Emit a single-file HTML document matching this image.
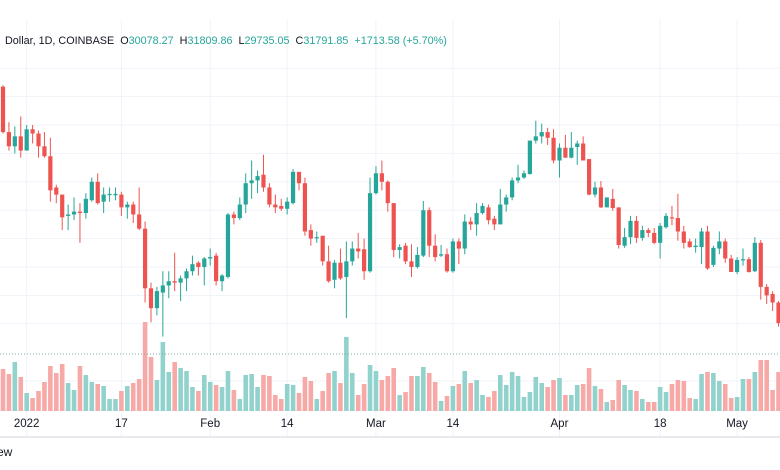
<!DOCTYPE html>
<html><head><meta charset="utf-8"><style>
html,body{margin:0;padding:0;background:#fff;}
body{width:780px;height:470px;overflow:hidden;position:relative;font-family:"Liberation Sans",sans-serif;}
#hdr{position:absolute;left:5px;top:35px;font-size:10.8px;color:#131722;white-space:nowrap;}
#hdr .v{color:#26a69a;}
#foot{position:absolute;left:-3px;top:445px;font-size:12px;color:#131722;}
</style></head><body>
<svg id="chart" width="780" height="470" style="position:absolute;left:0;top:0"></svg>
<div id="hdr">Dollar, 1D, COINBASE&nbsp;&nbsp;O<span class="v">30078.27</span>&nbsp;&nbsp;H<span class="v">31809.86</span>&nbsp;&nbsp;L<span class="v">29735.05</span>&nbsp;&nbsp;C<span class="v">31791.85</span>&nbsp;&nbsp;<span class="v">+1713.58 (+5.70%)</span></div>
<div id="foot">ew</div>
<script>
const opens=[50.7,47.5,46.5,47.2,46.2,47.7,47.4,46.5,45.8,43.6,43.1,41.6,41.7,41.9,41.8,42.7,44.0,42.6,43.1,43.05,43.1,42.2,42.4,41.7,40.7,36.5,35.1,36.2,36.7,37.0,36.9,37.2,37.7,38.3,38.0,38.6,38.8,37.0,37.3,41.7,41.45,42.4,43.9,44.1,44.5,43.6,42.4,42.3,42.1,42.5,44.7,43.9,40.6,40.05,40.2,38.4,37.1,38.3,37.3,38.4,39.3,39.25,37.7,43.2,44.6,44.0,42.5,39.2,39.5,38.4,38.0,38.8,42.0,39.5,38.8,38.9,37.7,39.8,39.3,41.2,41.0,41.8,42.2,41.4,41.0,42.4,42.9,44.1,44.3,44.55,46.9,47.2,47.5,47.1,45.5,46.4,45.7,46.45,46.7,45.6,43.1,43.6,42.2,42.8,42.2,39.5,40.1,41.25,40.05,40.6,40.4,39.7,40.8,41.5,41.45,40.5,39.8,39.4,39.4,40.5,38.15,39.3,39.8,38.6,37.65,38.5,38.55,37.7,39.7,36.6,36.1,35.5];
const closes=[47.5,46.5,47.2,46.2,47.7,47.4,46.5,45.8,43.4,43.1,41.5,41.7,41.9,41.8,42.8,44.0,42.5,43.1,43.15,43.15,42.2,42.4,41.7,40.7,36.5,35.1,36.3,36.7,37.0,36.9,37.2,37.7,38.2,38.0,38.6,38.7,37.0,37.4,41.7,41.45,42.4,43.9,44.1,44.4,43.6,42.4,42.2,42.1,42.6,44.7,43.9,40.5,40.0,40.1,38.4,37.0,38.3,37.2,38.4,39.3,39.1,37.7,43.2,44.6,44.0,42.5,39.2,39.4,38.4,38.0,38.85,42.0,39.5,38.7,38.9,37.7,39.8,39.3,41.2,41.0,41.8,42.3,41.3,41.0,42.4,42.9,44.1,44.3,44.6,46.9,47.2,47.5,47.1,45.5,46.4,45.7,46.4,46.7,45.5,43.1,43.6,42.2,42.9,42.15,39.55,40.1,41.25,40.05,40.6,40.4,39.7,40.9,41.6,41.45,40.5,39.7,39.4,39.5,40.5,37.9,39.35,39.8,38.6,37.65,38.5,38.55,37.65,39.7,36.6,36.0,35.5,34.05];
const highs=[50.8,48.2,47.9,48.6,48.0,48.0,47.6,47.5,47.1,43.8,43.1,42.4,42.9,42.5,43.2,44.3,44.6,43.6,43.6,43.6,43.3,42.6,42.6,43.6,41.2,36.9,36.6,37.7,37.7,39.0,37.4,37.9,38.8,38.4,38.7,39.3,39.0,37.5,41.8,41.9,42.9,44.6,45.5,44.8,45.9,43.9,43.1,42.8,42.9,44.9,44.7,44.3,41.0,40.5,40.2,39.5,38.5,39.3,39.8,39.8,40.4,40.0,44.3,45.1,45.5,44.1,42.5,39.6,39.7,39.6,39.4,42.65,42.2,40.3,39.55,39.3,40.0,40.0,41.7,41.5,42.5,42.5,42.4,41.6,43.5,43.1,44.3,45.2,44.8,46.9,48.3,48.1,47.8,47.7,46.7,47.3,47.5,46.9,47.2,45.6,44.0,44.05,42.9,43.5,42.2,40.75,41.6,41.6,40.9,40.75,40.75,41.1,41.8,42.3,43.15,40.9,40.0,40.0,40.75,40.9,39.5,40.5,40.0,38.85,38.7,39.3,38.7,40.1,39.9,36.8,36.3,35.6];
const lows=[47.4,46.2,46.0,45.7,46.2,46.7,45.7,45.7,42.6,42.5,40.6,40.6,41.3,39.7,41.4,42.6,42.4,41.8,42.6,42.7,41.6,41.4,41.1,40.6,35.5,34.1,34.6,33.1,35.8,36.3,35.6,36.3,37.4,37.4,36.7,38.1,36.7,36.3,37.2,41.0,41.3,41.8,42.8,43.2,43.3,42.2,41.8,41.95,41.7,42.4,43.4,40.2,39.5,39.7,38.1,36.9,36.5,37.1,34.4,38.1,38.6,37.1,37.6,43.1,43.4,41.9,38.7,38.6,38.2,37.3,37.9,38.7,38.7,38.4,38.7,37.6,37.6,38.2,38.9,40.6,40.2,41.7,41.0,40.6,41.0,41.9,42.7,43.9,44.2,44.5,46.7,46.7,46.6,45.3,44.3,45.68,45.65,45.2,45.5,43.05,42.9,42.15,42.2,41.95,39.3,39.35,39.6,39.7,39.85,40.1,39.6,38.6,40.7,40.95,39.85,39.3,39.35,39.0,38.2,37.8,38.0,38.9,38.3,37.65,37.5,38.1,37.6,37.65,35.7,35.4,34.9,33.8];
const volumes=[42,37,49,34,18,13,20,29,45,38,47,28,21,45,36,29,27,25,12,12,20,25,28,32,89,54,31,69,39,49,43,40,24,20,36,29,26,24,40,21,12,36,37,24,36,35,16,12,27,26,18,34,30,12,20,38,40,28,74,38,16,27,46,40,31,35,43,16,19,35,35,44,38,29,10,15,25,27,40,28,31,16,14,20,36,26,39,35,14,19,34,28,24,31,33,16,16,26,27,43,25,22,9,11,31,26,21,20,12,9,9,24,19,27,31,30,13,12,37,39,38,30,27,13,14,32,32,39,51,51,21,39];
const tickLabels=["2022","17","Feb","14","Mar","14","Apr","18","May"];
const tickIndex=[4,20,35,48,63,76,94,111,124];
const priceGrid=[52,50,48,46,44,42,40,38,36,34];

const NS="http://www.w3.org/2000/svg";
const svg=document.getElementById('chart');
const xOf=i=>3+5.92*i;
const yOf=p=>125+(48-p)*14.2;
const volBase=411;
const vOf=v=>volBase-v;
function mk(tag,attrs,parent){const e=document.createElementNS(NS,tag);for(const k in attrs)e.setAttribute(k,attrs[k]);(parent||svg).appendChild(e);return e;}

const grid=mk('g',{});


priceGrid.forEach(p=>{const l=mk('line',{x1:0,x2:780,y1:yOf(p),y2:yOf(p),stroke:'#f0f3fa','stroke-width':1},grid);

});
[381,410].forEach(y=>{mk('line',{x1:0,x2:780,y1:y,y2:y,stroke:'#f0f3fa','stroke-width':1},grid);});
tickIndex.forEach(i=>{const l=mk('line',{x1:xOf(i),x2:xOf(i),y1:20,y2:437,stroke:'#f0f3fa','stroke-width':1},grid);

});

const vg=mk('g',{});


volumes.forEach((v,i)=>{const up=closes[i]>=opens[i];
const r=mk('rect',{x:xOf(i)-2.3,y:vOf(v),width:4.6,height:v,fill:up?'#92d2cc':'#f7a9a7'},vg);

});

const dl=mk('line',{x1:0,x2:780,y1:354,y2:354,stroke:'#7fa9a6','stroke-width':1,'stroke-dasharray':'1,2'});



const cg=mk('g',{});


opens.forEach((o,i)=>{const c=closes[i],up=c>=o,col=up?'#26a69a':'#ef5350',x=xOf(i);
const g=mk('g',{},cg);


mk('line',{x1:x,x2:x,y1:yOf(highs[i]),y2:yOf(lows[i]),stroke:col,'stroke-width':1},g);
const top=yOf(Math.max(o,c)),h=Math.max(1.2,Math.abs(yOf(o)-yOf(c)));
mk('rect',{x:x-2.1,y:top,width:4.2,height:h,fill:col},g);});

const ax=mk('g',{});


tickLabels.forEach((t,k)=>{const tx=mk('text',{x:xOf(tickIndex[k]),y:427,'text-anchor':'middle','font-size':'11.5','font-family':'Liberation Sans, sans-serif',fill:'#131722'},ax);
tx.textContent=t;

});
const bl=mk('line',{x1:0,x2:780,y1:437,y2:437,stroke:'#e0e3eb','stroke-width':1.5});


</script>
</body></html>
